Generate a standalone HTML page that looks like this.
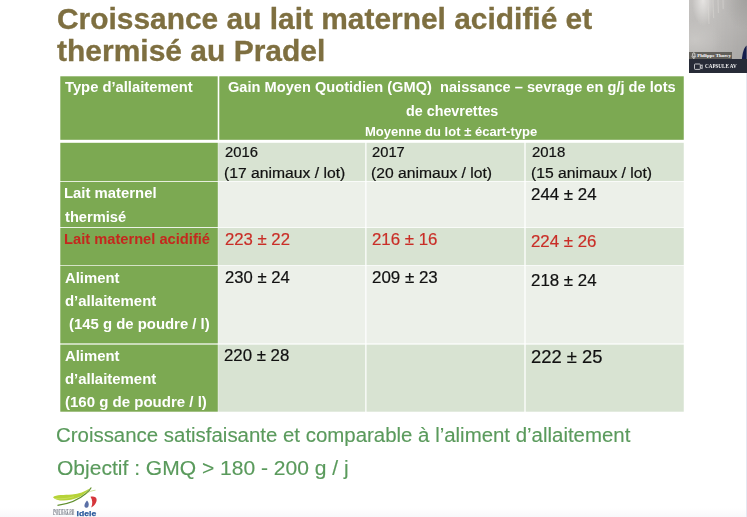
<!DOCTYPE html>
<html lang="fr">
<head>
<meta charset="utf-8">
<title>Croissance au lait maternel acidifié et thermisé au Pradel</title>
<style>
html,body{margin:0;padding:0;}
body{width:747px;height:517px;overflow:hidden;background:#fff;position:relative;font-family:"Liberation Sans",sans-serif;}
.c{position:absolute;}
.t{position:absolute;white-space:pre;transform-origin:0 0;filter:blur(.3px);}
</style>
</head>
<body>
<svg width="747" height="517" viewBox="0 0 747 517" style="position:absolute;left:0;top:0">
<rect x="60.3" y="76.3" width="157.40" height="63.50" fill="#7ca952"/>
<rect x="219.3" y="76.3" width="464.45" height="63.50" fill="#7ca952"/>
<rect x="60.3" y="142.8" width="157.50" height="38.30" fill="#7ca952"/>
<rect x="218.2" y="142.8" width="147.05" height="38.30" fill="#d8e3d2"/>
<rect x="366.5" y="142.8" width="157.85" height="38.30" fill="#d8e3d2"/>
<rect x="525.65" y="142.8" width="158.10" height="38.30" fill="#d8e3d2"/>
<rect x="60.3" y="181.9" width="157.50" height="45.10" fill="#7ca952"/>
<rect x="218.2" y="181.9" width="147.05" height="45.10" fill="#ecf0e9"/>
<rect x="366.5" y="181.9" width="157.85" height="45.10" fill="#ecf0e9"/>
<rect x="525.65" y="181.9" width="158.10" height="45.10" fill="#ecf0e9"/>
<rect x="60.3" y="227.85" width="157.50" height="37.25" fill="#7ca952"/>
<rect x="218.2" y="227.85" width="147.05" height="37.25" fill="#d8e3d2"/>
<rect x="366.5" y="227.85" width="157.85" height="37.25" fill="#d8e3d2"/>
<rect x="525.65" y="227.85" width="158.10" height="37.25" fill="#d8e3d2"/>
<rect x="60.3" y="265.75" width="157.50" height="77.65" fill="#7ca952"/>
<rect x="218.2" y="265.75" width="147.05" height="77.65" fill="#ecf0e9"/>
<rect x="366.5" y="265.75" width="157.85" height="77.65" fill="#ecf0e9"/>
<rect x="525.65" y="265.75" width="158.10" height="77.65" fill="#ecf0e9"/>
<rect x="60.3" y="344.6" width="157.50" height="67.10" fill="#7ca952"/>
<rect x="218.2" y="344.6" width="147.05" height="67.10" fill="#d8e3d2"/>
<rect x="366.5" y="344.6" width="157.85" height="67.10" fill="#d8e3d2"/>
<rect x="525.65" y="344.6" width="158.10" height="67.10" fill="#d8e3d2"/>
</svg>
<div class="t" id="t1" style="left:56.71px;top:4.95px;font-size:29.2px;line-height:29.2px;color:#7e6f40;font-weight:bold;-webkit-text-stroke:.3px currentColor;transform:scaleX(1.0246)">Croissance au lait maternel acidifié et</div>
<div class="t" id="t2" style="left:57.04px;top:36.95px;font-size:29.2px;line-height:29.2px;color:#7e6f40;font-weight:bold;-webkit-text-stroke:.3px currentColor;transform:scaleX(1.0273)">thermisé au Pradel</div>
<div class="t" id="h0" style="left:64.95px;top:79.95px;font-size:14.0px;line-height:14.0px;color:#fff;font-weight:bold;transform:scaleX(1.0540)">Type d’allaitement</div>
<div class="t" id="h1" style="left:227.54px;top:79.95px;font-size:14.0px;line-height:14.0px;color:#fff;font-weight:bold;transform:scaleX(1.0444)">Gain Moyen Quotidien (GMQ)  naissance – sevrage en g/j de lots</div>
<div class="t" id="h2" style="left:405.77px;top:103.95px;font-size:14.0px;line-height:14.0px;color:#fff;font-weight:bold;transform:scaleX(1.0229)">de chevrettes</div>
<div class="t" id="h3" style="left:365.20px;top:125.95px;font-size:12.4px;line-height:12.4px;color:#fff;font-weight:bold;transform:scaleX(1.0513)">Moyenne du lot ± écart-type</div>
<div class="t" id="y1a" style="left:224.95px;top:144.95px;font-size:14.0px;line-height:14.0px;color:#111;-webkit-text-stroke:.2px currentColor;transform:scaleX(1.0562)">2016</div>
<div class="t" id="y1b" style="left:223.76px;top:165.95px;font-size:14.0px;line-height:14.0px;color:#111;-webkit-text-stroke:.2px currentColor;transform:scaleX(1.1219)">(17 animaux / lot)</div>
<div class="t" id="y2a" style="left:372.07px;top:144.95px;font-size:14.0px;line-height:14.0px;color:#111;-webkit-text-stroke:.2px currentColor;transform:scaleX(1.0516)">2017</div>
<div class="t" id="y2b" style="left:371.33px;top:165.95px;font-size:14.0px;line-height:14.0px;color:#111;-webkit-text-stroke:.2px currentColor;transform:scaleX(1.1192)">(20 animaux / lot)</div>
<div class="t" id="y3a" style="left:531.79px;top:144.95px;font-size:14.0px;line-height:14.0px;color:#111;-webkit-text-stroke:.2px currentColor;transform:scaleX(1.0674)">2018</div>
<div class="t" id="y3b" style="left:530.75px;top:165.95px;font-size:14.0px;line-height:14.0px;color:#111;-webkit-text-stroke:.2px currentColor;transform:scaleX(1.1194)">(15 animaux / lot)</div>
<div class="t" id="r3a" style="left:64.20px;top:185.95px;font-size:14.0px;line-height:14.0px;color:#fff;font-weight:bold;transform:scaleX(1.0619)">Lait maternel</div>
<div class="t" id="r3b" style="left:64.90px;top:209.95px;font-size:14.0px;line-height:14.0px;color:#fff;font-weight:bold;transform:scaleX(1.0479)">thermisé</div>
<div class="t" id="r3v" style="left:531.27px;top:185.95px;font-size:16.2px;line-height:16.2px;color:#111;-webkit-text-stroke:.2px currentColor;transform:scaleX(1.0418)">244 ± 24</div>
<div class="t" id="r4a" style="left:64.20px;top:231.95px;font-size:14.0px;line-height:14.0px;color:#c4281e;font-weight:bold;transform:scaleX(1.0484)">Lait maternel acidifié</div>
<div class="t" id="r4v1" style="left:224.52px;top:230.95px;font-size:16.2px;line-height:16.2px;color:#c92e27;-webkit-text-stroke:.2px currentColor;transform:scaleX(1.0329)">223 ± 22</div>
<div class="t" id="r4v2" style="left:371.82px;top:230.95px;font-size:16.2px;line-height:16.2px;color:#c92e27;-webkit-text-stroke:.2px currentColor;transform:scaleX(1.0410)">216 ± 16</div>
<div class="t" id="r4v3" style="left:531.33px;top:232.95px;font-size:16.2px;line-height:16.2px;color:#c92e27;-webkit-text-stroke:.2px currentColor;transform:scaleX(1.0412)">224 ± 26</div>
<div class="t" id="r5a" style="left:64.81px;top:270.95px;font-size:14.0px;line-height:14.0px;color:#fff;font-weight:bold;transform:scaleX(1.0621)">Aliment</div>
<div class="t" id="r5b" style="left:64.79px;top:293.95px;font-size:14.0px;line-height:14.0px;color:#fff;font-weight:bold;transform:scaleX(1.0661)">d’allaitement</div>
<div class="t" id="r5c" style="left:69.14px;top:316.95px;font-size:14.0px;line-height:14.0px;color:#fff;font-weight:bold;transform:scaleX(1.0640)">(145 g de poudre / l)</div>
<div class="t" id="r5v1" style="left:224.77px;top:268.95px;font-size:16.2px;line-height:16.2px;color:#111;-webkit-text-stroke:.2px currentColor;transform:scaleX(1.0278)">230 ± 24</div>
<div class="t" id="r5v2" style="left:371.75px;top:268.95px;font-size:16.2px;line-height:16.2px;color:#111;-webkit-text-stroke:.2px currentColor;transform:scaleX(1.0456)">209 ± 23</div>
<div class="t" id="r5v3" style="left:531.27px;top:271.95px;font-size:16.2px;line-height:16.2px;color:#111;-webkit-text-stroke:.2px currentColor;transform:scaleX(1.0418)">218 ± 24</div>
<div class="t" id="r6a" style="left:64.81px;top:348.95px;font-size:14.0px;line-height:14.0px;color:#fff;font-weight:bold;transform:scaleX(1.0621)">Aliment</div>
<div class="t" id="r6b" style="left:64.79px;top:371.95px;font-size:14.0px;line-height:14.0px;color:#fff;font-weight:bold;transform:scaleX(1.0661)">d’allaitement</div>
<div class="t" id="r6c" style="left:64.84px;top:394.95px;font-size:14.0px;line-height:14.0px;color:#fff;font-weight:bold;transform:scaleX(1.0726)">(160 g de poudre / l)</div>
<div class="t" id="r6v1" style="left:224.38px;top:346.95px;font-size:16.2px;line-height:16.2px;color:#111;-webkit-text-stroke:.2px currentColor;transform:scaleX(1.0377)">220 ± 28</div>
<div class="t" id="r6v3" style="left:531.00px;top:348.95px;font-size:17.6px;line-height:17.6px;color:#111;-webkit-text-stroke:.2px currentColor;transform:scaleX(1.0437)">222 ± 25</div>
<div class="t" id="b1" style="left:56.35px;top:424.95px;font-size:20.0px;line-height:20.0px;color:#5a9a5c;-webkit-text-stroke:.15px currentColor;transform:scaleX(1.0211)">Croissance satisfaisante et comparable à l’aliment d’allaitement</div>
<div class="t" id="b2" style="left:56.78px;top:457.95px;font-size:20.0px;line-height:20.0px;color:#5a9a5c;-webkit-text-stroke:.15px currentColor;transform:scaleX(1.0518)">Objectif : GMQ &gt; 180 - 200 g / j</div>
<!-- right edge hairline + bottom shadow -->
<div style="position:absolute;left:746px;top:73px;width:1px;height:444px;background:#e5e7f0;"></div>
<div style="position:absolute;left:0;top:508px;width:746px;height:9px;background:linear-gradient(to bottom,rgba(248,248,250,0),rgba(248,248,250,1));"></div>

<!-- webcam thumbnail -->
<div style="position:absolute;left:689.4px;top:0;width:57.6px;height:59.2px;overflow:hidden;
 background:
  radial-gradient(ellipse 11px 26px at 14px 0px, rgba(232,230,228,.95), rgba(232,230,228,0) 100%),
  radial-gradient(ellipse 26px 20px at 6px 40px, rgba(206,204,201,.7), rgba(206,204,201,0) 100%),
  radial-gradient(ellipse 22px 30px at 57px 0px, rgba(150,148,146,.55), rgba(150,148,146,0) 100%),
  linear-gradient(to right,rgba(0,0,0,0) 0%,rgba(0,0,0,0) 40%,rgba(60,58,56,.12) 100%),
  linear-gradient(to bottom,#c3c1bf 0%,#bebcba 55%,#b6b4b2 100%);">
  <svg width="58" height="60" viewBox="0 0 58 60" style="position:absolute;left:0;top:0;filter:blur(.6px)">
    <path d="M57.6 45.5 C55 47.5 53.4 53 52.8 60 L57.6 60 Z" fill="#151d4c"/>
    <path d="M19 0 L20 24 M24 0 L24.6 18 M29 0 L29.4 13 M34 0 L34.2 9" stroke="#dddbd8" stroke-width="1.2" opacity=".45" fill="none"/>
  </svg>
  <!-- name tag -->
  <div style="position:absolute;left:0;top:51.9px;width:42.3px;height:7.4px;background:rgba(84,82,76,.86);"></div>
  <svg width="6" height="8" viewBox="0 0 6 8" style="position:absolute;left:1.9px;top:52px;">
    <rect x="1.7" y="0.8" width="2.2" height="4" rx="1.1" fill="none" stroke="#fff" stroke-width=".7"/>
    <path d="M0.9 3.8 C0.9 6.6 4.7 6.6 4.7 3.8 M2.8 6 V7.2" fill="none" stroke="#fff" stroke-width=".6"/>
  </svg>
  <div style="position:absolute;left:7.8px;top:52.1px;font-family:'Liberation Serif',serif;font-weight:bold;font-size:4.9px;line-height:7px;color:#fff;white-space:nowrap;">Philippe Thorey</div>
</div>
<div style="position:absolute;left:689.4px;top:59.1px;width:57.6px;height:13.8px;background:#272b37;">
  <svg width="10" height="8" viewBox="0 0 10 8" style="position:absolute;left:4.4px;top:3.5px;">
    <rect x=".5" y="1" width="5.8" height="5.4" rx=".7" fill="none" stroke="#e8e8ea" stroke-width=".8"/>
    <path d="M6.4 3 L8.2 1.8 V5.7 L6.4 4.5" fill="none" stroke="#e8e8ea" stroke-width=".8"/>
  </svg>
  <div style="position:absolute;left:15.7px;top:3.6px;font-family:'Liberation Serif',serif;font-weight:bold;font-size:5.5px;line-height:6px;color:#f2f2f2;white-space:nowrap;transform-origin:0 0;transform:scaleX(.93);">CAPSULE AV</div>
</div>

<!-- idele logo -->
<svg width="56" height="34" viewBox="0 0 56 34" style="position:absolute;left:46px;top:484px;filter:blur(.55px)">
  <!-- light green leaf -->
  <path d="M7 13.2 C10 10.6 18 11.2 26 10.6 C33 10 39 7.6 44 4.2 C40 9.6 33 14.2 25 15.8 C17 17.3 9.5 16.6 7 13.2 Z" fill="#b6d338"/>
  <path d="M9 14.5 C14 15.2 22 14.6 28 12.8" stroke="#cfe26a" stroke-width="1.2" fill="none" opacity=".7"/>
  <!-- dark green stem -->
  <path d="M11.5 21.4 C22 20 33 15.5 40 9.5 C42.5 7.4 44.2 5.4 45.3 3.4" stroke="#5f8f2c" stroke-width="1.1" fill="none"/>
  <path d="M40 9.6 C43 7.6 46 6.6 49.5 6.2" stroke="#a9c94a" stroke-width=".7" fill="none" opacity=".8"/>
  <!-- red crescent -->
  <path d="M44.5 12.8 C48 12.2 50.3 13 50.6 15.4 C50.8 18.4 48.6 21.6 45.2 23.4 C46.8 20.2 46.6 16 44.5 12.8 Z" fill="#d5363b"/>
  <!-- blue drop -->
  <path d="M41 16.6 C42.6 18.2 43.2 20.4 42.4 22.4 C41.6 24 39.4 24.2 38.6 22.8 C37.8 21.2 39.4 18.6 41 16.6 Z" fill="#5a6fa6"/>
  <!-- small grey text -->
  <g fill="#7d828c" font-family="Liberation Sans, sans-serif" font-weight="bold" font-size="2.9">
    <text x="7" y="27.6" textLength="21.4" lengthAdjust="spacingAndGlyphs">INSTITUT DE</text>
    <text x="7" y="31.2" textLength="21.4" lengthAdjust="spacingAndGlyphs">L'ELEVAGE</text>
  </g>
  <text x="30.6" y="31.7" font-family="Liberation Sans, sans-serif" font-weight="bold" font-size="8" fill="#27579a" stroke="#27579a" stroke-width=".25" textLength="19.6" lengthAdjust="spacingAndGlyphs">idele</text>
</svg>

</body>
</html>
